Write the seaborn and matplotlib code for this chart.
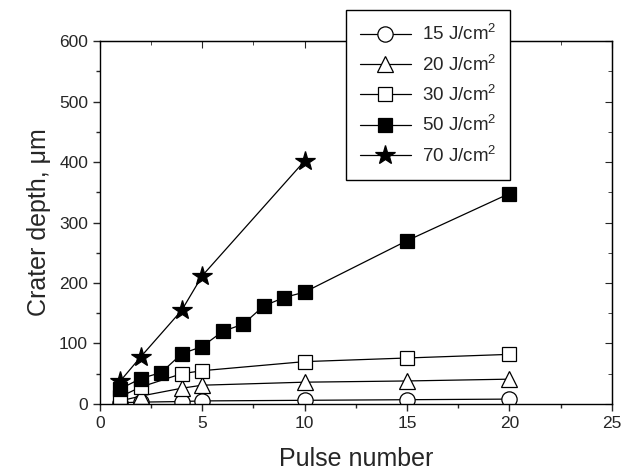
import matplotlib
matplotlib.use("Agg")
import matplotlib.pyplot as plt
import seaborn as sns
from matplotlib.ticker import MultipleLocator

sns.set_style("ticks")
plt.rcParams["font.family"] = ["Liberation Sans", "DejaVu Sans"]
plt.rcParams["mathtext.fontset"] = "custom"
plt.rcParams["mathtext.rm"] = "Liberation Sans"
plt.rcParams["mathtext.it"] = "Liberation Sans"

labels = ["15 J/cm$^2$", "20 J/cm$^2$", "30 J/cm$^2$", "50 J/cm$^2$", "70 J/cm$^2$"]

x15 = [1, 2, 4, 5, 10, 15, 20]
y15 = [2, 3, 4, 5, 6, 7, 8]
x20 = [1, 2, 4, 5, 10, 15, 20]
y20 = [5, 13, 26, 31, 36, 38, 41]
x30 = [1, 2, 4, 5, 10, 15, 20]
y30 = [12, 28, 50, 55, 70, 76, 82]
x50 = [1, 2, 3, 4, 5, 6, 7, 8, 9, 10, 15, 20]
y50 = [25, 42, 52, 83, 95, 120, 132, 162, 176, 185, 270, 348]
x70 = [1, 2, 4, 5, 10]
y70 = [38, 78, 155, 212, 402]

series = [(x15, y15, "o", "white", 11),
          (x20, y20, "^", "white", 12),
          (x30, y30, "s", "white", 10.5),
          (x50, y50, "s", "black", 10.5),
          (x70, y70, "*", "black", 15)]

fig = plt.figure(figsize=(6.4, 4.73), dpi=100)
ax = fig.add_axes([0.156, 0.146, 0.8, 0.767])

for (xs, ys, m, fc, ms), lbl in zip(series, labels):
    sns.lineplot(x=xs, y=ys, ax=ax, color="black", lw=0.9, marker=m,
                 markersize=ms, markerfacecolor=fc, markeredgecolor="black",
                 markeredgewidth=0.9, label=lbl)

ax.set_xlim(0, 25)
ax.set_ylim(0, 600)
ax.xaxis.set_major_locator(MultipleLocator(5))
ax.xaxis.set_minor_locator(MultipleLocator(2.5))
ax.yaxis.set_major_locator(MultipleLocator(100))
ax.yaxis.set_minor_locator(MultipleLocator(50))
ax.tick_params(which="both", direction="out", labelsize=12.5, width=1)
ax.tick_params(which="major", length=5)
ax.tick_params(which="minor", length=3)
for s in ax.spines.values():
    s.set_linewidth(1)
    s.set_color("black")

# mirrored inward ticks on top/right
axr = ax.secondary_yaxis("right")
axr.yaxis.set_major_locator(MultipleLocator(100))
axr.yaxis.set_minor_locator(MultipleLocator(50))
axr.tick_params(which="both", direction="in", labelright=False)
axr.tick_params(which="major", length=5)
axr.tick_params(which="minor", length=3)
axt = ax.secondary_xaxis("top")
axt.xaxis.set_major_locator(MultipleLocator(5))
axt.xaxis.set_minor_locator(MultipleLocator(2.5))
axt.tick_params(which="both", direction="in", labeltop=False)
axt.tick_params(which="major", length=5)
axt.tick_params(which="minor", length=3)

ax.set_xlabel("Pulse number", fontsize=18, labelpad=12)
ax.set_ylabel("Crater depth, μm", fontsize=18, labelpad=6)

leg = ax.legend(loc="upper left", bbox_to_anchor=(346 / 640, 1 - 10 / 473),
                bbox_transform=fig.transFigure, borderaxespad=0,
                fontsize=13.5, frameon=True, fancybox=False,
                edgecolor="black", handlelength=2.7, handletextpad=0.6,
                borderpad=0.75, labelspacing=0.55)
leg.get_frame().set_linewidth(1)
leg.get_frame().set_alpha(1)

fig.savefig("out.png", dpi=100)
